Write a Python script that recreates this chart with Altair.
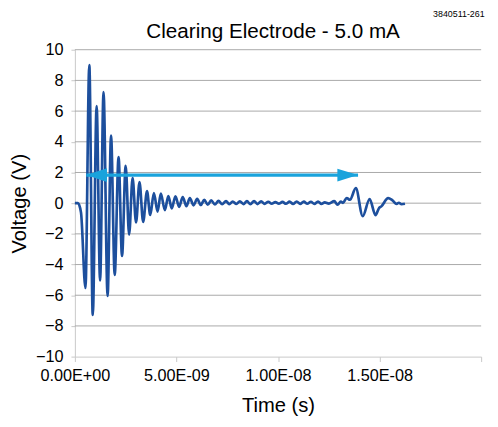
import altair as alt
import pandas as pd

FONT = "Liberation Sans"

# Waveform: time in ns (axis labelled in seconds), voltage in V
time_ns = [0.00, 0.15, 0.30, 0.52, 0.71, 0.88, 1.07, 1.24, 1.41, 1.61,
           1.78, 1.96, 2.15, 2.32, 2.50, 2.67, 2.84, 3.01, 3.18, 3.36,
           3.55, 3.71, 3.89, 4.07, 4.23, 4.43, 4.60, 4.77, 4.95, 5.13,
           5.31, 5.49, 5.66, 5.84, 6.02, 6.20, 6.37, 6.54, 6.71, 6.89,
           7.07, 7.25, 7.44, 7.60, 7.77, 7.95, 8.12, 8.30, 8.47, 8.64,
           8.82, 8.99, 9.17, 9.34, 9.52, 9.69, 9.87, 10.04, 10.22, 10.39,
           10.57, 10.74, 10.92, 11.09, 11.27, 11.44, 11.62, 11.79, 11.97, 12.14,
           12.30, 12.50, 12.77, 12.93, 13.09, 13.20, 13.38, 13.54, 13.83, 14.17,
           14.51, 14.80, 14.98, 15.08, 15.42, 15.62, 15.84, 15.95, 16.08, 16.25]
voltage = [0.00, 0.00, -0.60, -5.53, 9.00, -7.29, 6.33, -5.04, 7.24, -6.05,
           4.40, -4.68, 3.01, -3.44, 2.44, -2.05, 1.65, -1.26, 1.37, -1.22,
           0.79, -0.77, 0.66, -0.56, 0.62, -0.45, 0.47, -0.34, 0.45, -0.24,
           0.40, -0.19, 0.34, -0.14, 0.28, -0.12, 0.22, -0.10, 0.18, -0.08,
           0.15, -0.07, 0.13, -0.06, 0.11, -0.05, 0.12, -0.06, 0.13, -0.07,
           0.14, -0.06, 0.12, -0.05, 0.09, -0.04, 0.07, -0.03, 0.08, -0.04,
           0.10, -0.05, 0.11, -0.05, 0.10, -0.04, 0.09, -0.05, 0.10, -0.05,
           0.05, -0.03, 0.13, -0.10, 0.10, 0.02, 0.34, 0.22, 0.98, -0.85,
           0.27, -0.78, -0.30, -0.22, 0.33, 0.20, -0.05, 0.03, -0.07, -0.04]

# Arrow annotation (tips in ns, level in V)
arrow_t = [0.56, 13.94]
arrow_v = [1.83, 1.83]

# Axis ticks
x_tick_values = [0, 5, 10, 15, 20]
x_tick_labels = ["0.00E+00", "5.00E-09", "1.00E-08", "1.50E-08", ""]
y_tick_values = [-10, -8, -6, -4, -2, 0, 2, 4, 6, 8, 10]
y_grid_values = [-8, -6, -4, -2, 0, 2, 4, 6, 8, 10]

TITLE = "Clearing Electrode - 5.0 mA"
FIG_ID = "3840511-261"

wave = pd.DataFrame({"t": time_ns, "v": voltage})
grid = pd.DataFrame({"v": y_grid_values})
arrow_line = pd.DataFrame({"t0": [arrow_t[0]], "t1": [arrow_t[1]], "v": [arrow_v[0]]})
arrow_left = pd.DataFrame({"t": [arrow_t[0]], "v": [arrow_v[0]]})
arrow_right = pd.DataFrame({"t": [arrow_t[1]], "v": [arrow_v[1]]})

WAVE_COLOR = "#1d4f9d"
ARROW_COLOR = "#19a3dc"
LIGHT = "#c8c8c8"
GRID = "#a8a8a8"

label_js = "[" + ",".join("'%s'" % s for s in x_tick_labels) + "]"
vals_js = "[" + ",".join(str(v) for v in x_tick_values) + "]"

x_scale = alt.Scale(domain=[0, 20], nice=False, zero=False)
y_scale = alt.Scale(domain=[-10, 10], nice=False)

x_axis = alt.Axis(
    values=x_tick_values, grid=False, labelOverlap=False, labelFlush=False,
    labelExpr=label_js + "[indexof(" + vals_js + ", datum.value)]",
    labelFont=FONT, labelFontSize=16.5, labelColor="black", labelPadding=6,
    tickColor=LIGHT, tickSize=5, domainColor=LIGHT,
    title="Time (s)", titleFont=FONT, titleFontSize=20.5, titleFontWeight="normal",
    titleColor="black", titlePadding=12,
)
y_axis = alt.Axis(
    values=y_tick_values, grid=False, labelOverlap=False, labelFlush=False,
    labelFont=FONT, labelFontSize=16.5, labelColor="black", labelPadding=8,
    tickColor=LIGHT, tickSize=4, domainColor=LIGHT,
    title="Voltage (V)", titleFont=FONT, titleFontSize=20.5, titleFontWeight="normal",
    titleColor="black", titlePadding=6,
)

X = lambda f: alt.X(f, scale=x_scale, axis=x_axis)
Y = lambda f: alt.Y(f, scale=y_scale, axis=y_axis)

gridlines = alt.Chart(grid).mark_rule(color=GRID, strokeWidth=1).encode(y=Y("v:Q"))

line = alt.Chart(wave).mark_line(
    color=WAVE_COLOR, strokeWidth=2.7, interpolate="monotone"
).encode(x=X("t:Q"), y=Y("v:Q"))

rule = alt.Chart(arrow_line).mark_rule(color=ARROW_COLOR, strokeWidth=3.2).encode(
    x=X("t0:Q"), x2="t1:Q", y=Y("v:Q")
)

head_r = alt.Chart(arrow_right).mark_point(
    shape="M0,0 L-4.2,-1.3 L-4.2,1.3 Z", size=100, filled=True,
    color=ARROW_COLOR, opacity=1, strokeWidth=0
).encode(x=X("t:Q"), y=Y("v:Q"))

head_l = alt.Chart(arrow_left).mark_point(
    shape="M0,0 L4.2,-1.4 L4.2,1.4 Z", size=100, filled=True,
    color=ARROW_COLOR, opacity=1, strokeWidth=0
).encode(x=X("t:Q"), y=Y("v:Q"))

title_text = alt.Chart(pd.DataFrame({"label": [TITLE]})).mark_text(
    font=FONT, fontSize=21, align="center", baseline="alphabetic", color="black"
).encode(text="label:N", x=alt.value(201.5), y=alt.value(-12))

id_text = alt.Chart(pd.DataFrame({"label": [FIG_ID]})).mark_text(
    font=FONT, fontSize=9, align="right", baseline="alphabetic", color="black"
).encode(text="label:N", x=alt.value(416.5), y=alt.value(-33))

chart = alt.layer(gridlines, line, rule, head_l, head_r, title_text, id_text).properties(
    width=413, height=312,
    padding={"left": 68, "top": 39, "right": 9, "bottom": 60},
    autosize=alt.AutoSizeParams(type="none"),
).configure_view(stroke=None)

chart.save("out.html", embed_options={"renderer": "svg", "actions": False})
